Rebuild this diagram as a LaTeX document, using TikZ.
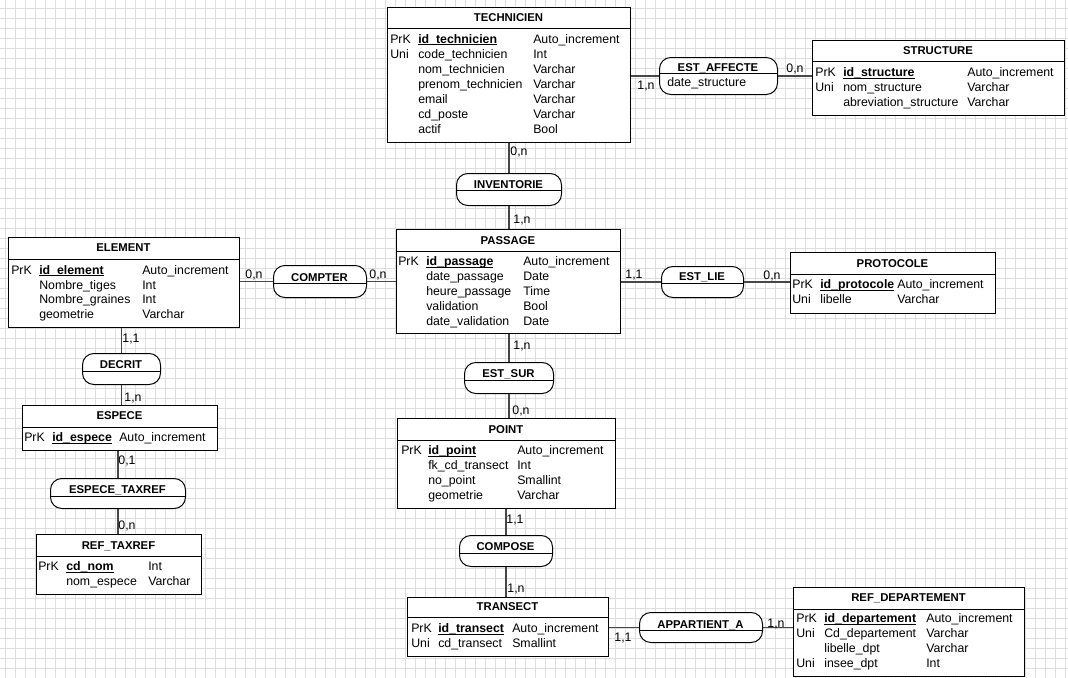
\documentclass[tikz,border=0pt]{standalone}
\usepackage{fontspec}
\setmainfont{Liberation Sans}
\newsavebox\idbox
\newcommand\idf[1]{\sbox\idbox{\textbf{#1}}\rlap{\rule[-1.7pt]{\wd\idbox}{0.75pt}}\usebox\idbox}
\tikzset{
  wh/.style 2 args={minimum width=#1*0.75pt, minimum height=#2*0.75pt},
  ent/.style={draw=black, line width=0.75pt, fill=white, inner sep=0pt, anchor=north west},
  assoc/.style={draw=black, line width=0.75pt, fill=white, inner sep=0pt, anchor=north west, rounded corners=8.5pt},
  sep/.style={draw=black, line width=0.75pt},
  etitle/.style={font=\bfseries\fontsize{8.5}{10}\selectfont, inner sep=0pt, text height=6.5pt, text depth=0.5pt},
  txt/.style={font=\fontsize{9.25}{10}\selectfont, inner sep=0pt, anchor=west, text height=6.5pt, text depth=0.5pt},
  card/.style={font=\fontsize{9.25}{10}\selectfont, inner sep=0pt, text height=6.5pt, text depth=0.5pt},
  conn/.style={draw=black!72, line width=1.1pt},
  gridline/.style={draw=black!13, line width=0.6pt},
}
\begin{document}
\begin{tikzpicture}[x=0.75pt,y=-0.75pt]
\useasboundingbox (0,0) rectangle (1068,678);
\fill[white] (0,0) rectangle (1068,678);
\foreach \x in {5,15,...,1065} \draw[gridline] (\x,0) -- (\x,678);
\foreach \y in {8,18,...,678} \draw[gridline] (0,\y) -- (1068,\y);

% ---------- TECHNICIEN
\node[ent, wh={243}{135}] (technicien) at (387,7) {};
\draw[sep] (387,28) -- (630,28);
\node[etitle] (technicien-h) at (508.5,17.5) {TECHNICIEN};
\foreach \y/\k/\n/\t [count=\i] in {39/PrK/\idf{id\_technicien}/Auto\_increment,
  54/Uni/code\_technicien/Int, 69//nom\_technicien/Varchar, 84//prenom\_technicien/Varchar,
  99//email/Varchar, 114//cd\_poste/Varchar, 129//actif/Bool} {
  \node[txt] (technicien-k\i) at (390,\y) {\k};
  \node[txt] (technicien-n\i) at (418,\y) {\n};
  \node[txt] (technicien-t\i) at (533,\y) {\t};
}

% ---------- STRUCTURE
\node[ent, wh={252}{75}] (structure) at (812,40) {};
\draw[sep] (812,61) -- (1064,61);
\node[etitle] (structure-h) at (938,50.5) {STRUCTURE};
\foreach \y/\k/\n/\t [count=\i] in {72.5/PrK/\idf{id\_structure}/Auto\_increment,
  87.5/Uni/nom\_structure/Varchar, 102//abreviation\_structure/Varchar} {
  \node[txt] (structure-k\i) at (815,\y) {\k};
  \node[txt] (structure-n\i) at (843,\y) {\n};
  \node[txt] (structure-t\i) at (967,\y) {\t};
}

% ---------- ELEMENT
\node[ent, wh={231}{90}] (element) at (8,237) {};
\draw[sep] (8,259) -- (239,259);
\node[etitle] (element-h) at (123.5,247.5) {ELEMENT};
\foreach \y/\k/\n/\t [count=\i] in {270/PrK/\idf{id\_element}/Auto\_increment,
  285//Nombre\_tiges/Int, 299.5//Nombre\_graines/Int, 314//geometrie/Varchar} {
  \node[txt] (element-k\i) at (11,\y) {\k};
  \node[txt] (element-n\i) at (39,\y) {\n};
  \node[txt] (element-t\i) at (142,\y) {\t};
}

% ---------- PASSAGE
\node[ent, wh={224}{104}] (passage) at (396,229) {};
\draw[sep] (396,251) -- (620,251);
\node[etitle] (passage-h) at (508,240) {PASSAGE};
\foreach \y/\k/\n/\t [count=\i] in {261.5/PrK/\idf{id\_passage}/Auto\_increment,
  276.5//date\_passage/Date, 291.5//heure\_passage/Time, 306.5//validation/Bool,
  321.5//date\_validation/Date} {
  \node[txt] (passage-k\i) at (398,\y) {\k};
  \node[txt] (passage-n\i) at (426,\y) {\n};
  \node[txt] (passage-t\i) at (523,\y) {\t};
}

% ---------- PROTOCOLE
\node[ent, wh={205}{61}] (protocole) at (790,252) {};
\draw[sep] (790,274) -- (995,274);
\node[etitle] (protocole-h) at (892.5,263) {PROTOCOLE};
\foreach \y/\k/\n/\t [count=\i] in {284.5/PrK/\idf{id\_protocole}/Auto\_increment,
  299.5/Uni/libelle/Varchar} {
  \node[txt] (protocole-k\i) at (792,\y) {\k};
  \node[txt] (protocole-n\i) at (820,\y) {\n};
  \node[txt] (protocole-t\i) at (897,\y) {\t};
}

% ---------- ESPECE
\node[ent, wh={195}{45}] (espece) at (22,405) {};
\draw[sep] (22,427) -- (217,427);
\node[etitle] (espece-h) at (119.5,415.5) {ESPECE};
\node[txt] (espece-k1) at (24,437.5) {PrK};
\node[txt] (espece-n1) at (52,437.5) {\idf{id\_espece}};
\node[txt] (espece-t1) at (119,437.5) {Auto\_increment};

% ---------- REF_TAXREF
\node[ent, wh={165}{60}] (reftaxref) at (36,534) {};
\draw[sep] (36,556) -- (201,556);
\node[etitle] (reftaxref-h) at (118.5,545) {REF\_TAXREF};
\foreach \y/\k/\n/\t [count=\i] in {566.5/PrK/\idf{cd\_nom}/Int, 581.5//nom\_espece/Varchar} {
  \node[txt] (reftaxref-k\i) at (38,\y) {\k};
  \node[txt] (reftaxref-n\i) at (66,\y) {\n};
  \node[txt] (reftaxref-t\i) at (148,\y) {\t};
}

% ---------- POINT
\node[ent, wh={218}{90}] (point) at (397,418) {};
\draw[sep] (397,440) -- (615,440);
\node[etitle] (point-h) at (506,429) {POINT};
\foreach \y/\k/\n/\t [count=\i] in {450.5/PrK/\idf{id\_point}/Auto\_increment,
  465.5//fk\_cd\_transect/Int, 480.5//no\_point/Smallint, 495.5//geometrie/Varchar} {
  \node[txt] (point-k\i) at (401,\y) {\k};
  \node[txt] (point-n\i) at (428,\y) {\n};
  \node[txt] (point-t\i) at (517,\y) {\t};
}

% ---------- TRANSECT
\node[ent, wh={201}{59}] (transect) at (407,597) {};
\draw[sep] (407,617) -- (608,617);
\node[etitle] (transect-h) at (507.5,606.5) {TRANSECT};
\foreach \y/\k/\n/\t [count=\i] in {628.5/PrK/\idf{id\_transect}/Auto\_increment,
  643.5/Uni/cd\_transect/Smallint} {
  \node[txt] (transect-k\i) at (411,\y) {\k};
  \node[txt] (transect-n\i) at (438,\y) {\n};
  \node[txt] (transect-t\i) at (512,\y) {\t};
}

% ---------- REF_DEPARTEMENT
\node[ent, wh={231}{89}] (refdep) at (793,587) {};
\draw[sep] (793,609) -- (1024,609);
\node[etitle] (refdep-h) at (908.5,597.5) {REF\_DEPARTEMENT};
\foreach \y/\k/\n/\t [count=\i] in {618.5/PrK/\idf{id\_departement}/Auto\_increment,
  633.5/Uni/Cd\_departement/Varchar, 648.5//libelle\_dpt/Varchar, 663.5/Uni/insee\_dpt/Int} {
  \node[txt] (refdep-k\i) at (796,\y) {\k};
  \node[txt] (refdep-n\i) at (824,\y) {\n};
  \node[txt] (refdep-t\i) at (926,\y) {\t};
}

% ---------- associations
\node[assoc, wh={118}{37}] (estaffecte) at (659,57) {};
\draw[sep] (659,73) -- (777,73);
\node[etitle] (estaffecte-h) at (718,67) {EST\_AFFECTE};
\node[txt] (estaffecte-a) at (667,82.5) {date\_structure};

\node[assoc, wh={105}{32}] (inventorie) at (456,173) {};
\draw[sep] (456,190) -- (561,190);
\node[etitle] (inventorie-h) at (508.5,184) {INVENTORIE};

\node[assoc, wh={93}{32}] (compter) at (273,265) {};
\draw[sep] (273,283) -- (366,283);
\node[etitle] (compter-h) at (319.5,277) {COMPTER};

\node[assoc, wh={82}{31}] (estlie) at (661,266) {};
\draw[sep] (661,283.5) -- (743,283.5);
\node[etitle] (estlie-h) at (702,276.5) {EST\_LIE};

\node[assoc, wh={78}{31}] (decrit) at (82,353) {};
\draw[sep] (82,371) -- (160,371);
\node[etitle] (decrit-h) at (121,364) {DECRIT};

\node[assoc, wh={135}{30}] (especetaxref) at (50,478) {};
\draw[sep] (50,496) -- (185,496);
\node[etitle] (especetaxref-h) at (117.5,489) {ESPECE\_TAXREF};

\node[assoc, wh={89}{31}] (estsur) at (464,362) {};
\draw[sep] (464,380) -- (553,380);
\node[etitle] (estsur-h) at (508.5,373) {EST\_SUR};

\node[assoc, wh={93}{31}] (compose) at (459,535) {};
\draw[sep] (459,553) -- (552,553);
\node[etitle] (compose-h) at (505.5,546) {COMPOSE};

\node[assoc, wh={123}{30}] (appartient) at (639,612) {};
\draw[sep] (639,630) -- (762,630);
\node[etitle] (appartient-h) at (700.5,624.5) {APPARTIENT\_A};

% ---------- connectors
\draw[conn] (estaffecte.west -| technicien.east) -- (estaffecte.west);
\draw[conn] (estaffecte.east) -- (estaffecte.east -| structure.west);
\draw[conn] (inventorie.north |- technicien.south) -- (inventorie.north);
\draw[conn] (inventorie.south) -- (inventorie.south |- passage.north);
\draw[conn] (compter.west -| element.east) -- (compter.west);
\draw[conn] (compter.east) -- (compter.east -| passage.west);
\draw[conn] (estlie.west -| passage.east) -- (estlie.west);
\draw[conn] (estlie.east) -- (estlie.east -| protocole.west);
\draw[conn] (decrit.north |- element.south) -- (decrit.north);
\draw[conn] (decrit.south) -- (decrit.south |- espece.north);
\draw[conn] (especetaxref.north |- espece.south) -- (especetaxref.north);
\draw[conn] (especetaxref.south) -- (especetaxref.south |- reftaxref.north);
\draw[conn] (estsur.north |- passage.south) -- (estsur.north);
\draw[conn] (estsur.south) -- (estsur.south |- point.north);
\draw[conn] (compose.north |- point.south) -- (compose.north);
\draw[conn] (compose.south) -- (compose.south |- transect.north);
\draw[conn] (appartient.west -| transect.east) -- (appartient.west);
\draw[conn] (appartient.east) -- (appartient.east -| refdep.west);

% ---------- cardinalities
\node[card] (c1) at (519,151) {0,n};
\node[card] (c2) at (522,219) {1,n};
\node[card] (c3) at (646,85) {1,n};
\node[card] (c4) at (795,68) {0,n};
\node[card] (c5) at (254,274) {0,n};
\node[card] (c6) at (378,274) {0,n};
\node[card] (c7) at (634,274.5) {1,1};
\node[card] (c8) at (772,275) {0,n};
\node[card] (c9) at (131,338) {1,1};
\node[card] (c10) at (133,397) {1,n};
\node[card] (c11) at (127,460) {0,1};
\node[card] (c12) at (127,525) {0,n};
\node[card] (c13) at (522,345) {1,n};
\node[card] (c14) at (521,410) {0,n};
\node[card] (c15) at (515,519) {1,1};
\node[card] (c16) at (516,588) {1,n};
\node[card] (c17) at (623,637) {1,1};
\node[card] (c18) at (776,623) {1,n};
\end{tikzpicture}
\end{document}
